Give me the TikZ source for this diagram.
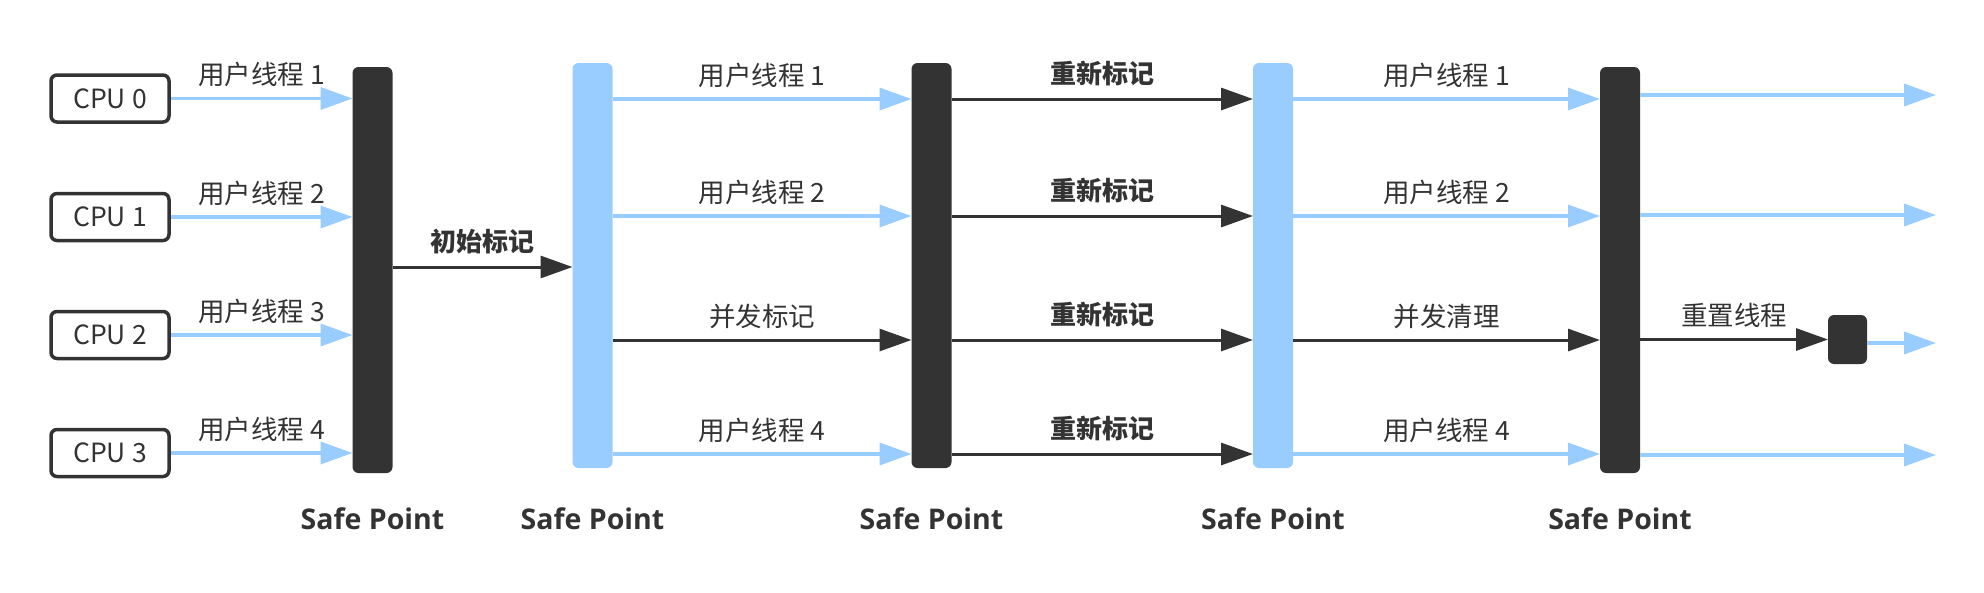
\documentclass[tikz,border=0pt]{standalone}
\usepackage{fontspec}
\newfontfamily\cjk{Noto Sans CJK SC}
\newfontfamily\os{Open Sans}
\usetikzlibrary{arrows.meta}
\definecolor{dk}{HTML}{333333}
\definecolor{lb}{HTML}{99CCFF}
\begin{document}
\begin{tikzpicture}[x=1pt,y=-1pt,
  cpu/.style={draw=dk, line width=3.5pt, rounded corners=6pt, minimum width=118pt, minimum height=47pt, text=dk, font=\cjk\fontsize{26.5}{30}\selectfont, inner sep=0pt},
  darkbar/.style={fill=dk, rounded corners=6pt, minimum width=40pt, inner sep=0pt, outer sep=0pt},
  bluebar/.style={fill=lb, rounded corners=6pt, minimum width=40pt, inner sep=0pt, outer sep=0pt},
  barrow/.style={draw=lb, line width=3.5pt, -{Triangle[length=32pt,width=22pt]}},
  darrow/.style={draw=dk, line width=3pt, -{Triangle[length=32pt,width=22pt]}},
  lab/.style={text=dk, font=\cjk\fontsize{26.5}{30}\selectfont, yshift=24pt},
  blab/.style={text=dk, font=\cjk\bfseries\fontsize{26}{30}\selectfont, yshift=25pt},
  splab/.style={text=dk, font=\os\bfseries\fontsize{28.5}{32}\selectfont}
]
\useasboundingbox (0,0) rectangle (1984,592);
% rows
\coordinate (r0) at (0,267);
\coordinate (r1) at (0,99);
\coordinate (r2) at (0,216);
\coordinate (r3) at (0,340);
\coordinate (r4) at (0,454);
\coordinate (sp) at (0,519);
\coordinate (e1) at (1936,95);
\coordinate (e2) at (1936,215);
\coordinate (e3) at (1936,343);
\coordinate (e4) at (1936,455);
% CPUs
\node[cpu] (c0) at (110,98.5) {CPU 0};
\node[cpu] (c1) at (110,217) {CPU 1};
\node[cpu] (c2) at (110,335) {CPU 2};
\node[cpu] (c3) at (110,453) {CPU 3};
% bars
\node[darkbar, minimum height=406pt] (b1) at (372.5,270) {};
\node[bluebar, minimum height=405pt] (b2) at (592.5,265.5) {};
\node[darkbar, minimum height=405pt] (b3) at (931.5,265.5) {};
\node[bluebar, minimum height=405pt] (b4) at (1273,265.5) {};
\node[darkbar, minimum height=406pt] (b5) at (1620,270) {};
\node[darkbar, minimum width=39pt, minimum height=49pt] (sb) at (1847.5,339.5) {};
% CPU -> b1
\draw[barrow] (c0.east) -- node[lab]{用户线程 1} (c0.east -| b1.west);
\draw[barrow] (c1.east) -- node[lab]{用户线程 2} (c1.east -| b1.west);
\draw[barrow] (c2.east) -- node[lab]{用户线程 3} (c2.east -| b1.west);
\draw[barrow] (c3.east) -- node[lab]{用户线程 4} (c3.east -| b1.west);
% b1 -> b2
\draw[darrow] (b1.east |- r0) -- node[blab]{初始标记} (b2.west |- r0);
% b2 -> b3
\draw[barrow] (b2.east |- r1) -- node[lab]{用户线程 1} (b3.west |- r1);
\draw[barrow] (b2.east |- r2) -- node[lab]{用户线程 2} (b3.west |- r2);
\draw[darrow] (b2.east |- r3) -- node[lab]{并发标记} (b3.west |- r3);
\draw[barrow] (b2.east |- r4) -- node[lab]{用户线程 4} (b3.west |- r4);
% b3 -> b4
\draw[darrow] (b3.east |- r1) -- node[blab]{重新标记} (b4.west |- r1);
\draw[darrow] (b3.east |- r2) -- node[blab]{重新标记} (b4.west |- r2);
\draw[darrow] (b3.east |- r3) -- node[blab]{重新标记} (b4.west |- r3);
\draw[darrow] (b3.east |- r4) -- node[blab]{重新标记} (b4.west |- r4);
% b4 -> b5
\draw[barrow] (b4.east |- r1) -- node[lab]{用户线程 1} (b5.west |- r1);
\draw[barrow] (b4.east |- r2) -- node[lab]{用户线程 2} (b5.west |- r2);
\draw[darrow] (b4.east |- r3) -- node[lab]{并发清理} (b5.west |- r3);
\draw[barrow] (b4.east |- r4) -- node[lab]{用户线程 4} (b5.west |- r4);
% b5 -> right
\draw[barrow] (b5.east |- e1) -- (e1);
\draw[barrow] (b5.east |- e2) -- (e2);
\draw[darrow] (b5.east |- sb.west) -- node[lab]{重置线程} (sb.west);
\draw[barrow] (sb.east |- e3) -- (e3);
\draw[barrow] (b5.east |- e4) -- (e4);
% Safe Point labels
\node[splab] (s1) at (b1 |- sp) {Safe Point};
\node[splab] (s2) at (b2 |- sp) {Safe Point};
\node[splab] (s3) at (b3 |- sp) {Safe Point};
\node[splab] (s4) at (b4 |- sp) {Safe Point};
\node[splab] (s5) at (b5 |- sp) {Safe Point};
\end{tikzpicture}
\end{document}
